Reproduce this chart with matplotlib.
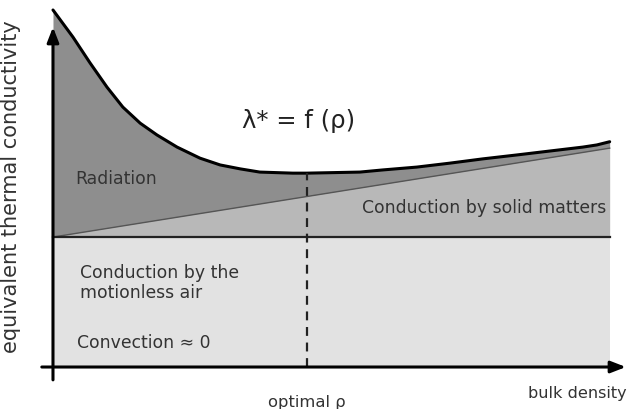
import matplotlib
matplotlib.use("Agg")
import matplotlib.pyplot as plt
import numpy as np

# Data (arbitrary units read from the schematic)
density = [0, 3.58, 6.62, 9.66, 12.5, 15.6, 18.6, 22.2, 26.3, 29.9, 33.5, 37.0,
           42.9, 45.4, 54.9, 59.0, 65.1, 71.0, 76.9, 83.0, 88.9, 94.8, 97.3, 99.6]
conductivity = [100.0, 92.4, 85.2, 78.4, 72.8, 68.3, 65.0, 61.6, 58.5, 56.6, 55.5, 54.6,
                54.3, 54.3, 54.6, 55.2, 56.0, 57.1, 58.3, 59.4, 60.5, 61.6, 62.2, 63.1]
air_level = 36.4
solid_start, solid_end = 36.4, 61.3
optimal_rho = 45.4
x_end = 99.6

c_rad = "#8e8e8e"
c_solid = "#b8b8b8"
c_air = "#e2e2e2"

fig = plt.figure(figsize=(6.27, 4.09), dpi=100)
ax = fig.add_axes([0, 0, 1, 1])
ax.set_xlim(-9.48, 102.7)
ax.set_ylim(-11.76, 102.8)
ax.axis("off")

x = np.array(density)
y = np.array(conductivity)
solid = np.interp(x, [0, x_end], [solid_start, solid_end])

ax.fill_between(x, 0, air_level, color=c_air, lw=0)
ax.fill_between(x, air_level, solid, color=c_solid, lw=0)
ax.fill_between(x, solid, y, color=c_rad, lw=0)

ax.plot(x, y, color="black", lw=2.2, solid_capstyle="round", solid_joinstyle="round")
ax.plot([0, x_end], [solid_start, solid_end], color="#555555", lw=1.0)
ax.plot([0, x_end], [air_level, air_level], color="#222222", lw=1.6)
ymin_opt = np.interp(optimal_rho, x, y)
ax.plot([optimal_rho, optimal_rho], [0, ymin_opt], color="#222222", lw=1.6,
        ls=(0, (4, 3)))

# axes arrows
ax.annotate("", xy=(102.5, 0), xytext=(-2, 0),
            arrowprops=dict(arrowstyle="-|>,head_length=0.9,head_width=0.35",
                            color="black", lw=2.2, shrinkA=0, shrinkB=0))
ax.annotate("", xy=(0, 95.2), xytext=(0, -3.6),
            arrowprops=dict(arrowstyle="-|>,head_length=0.9,head_width=0.35",
                            color="black", lw=2.2, shrinkA=0, shrinkB=0))

fs = 12.4
tc = "#333333"
ax.text(44.0, 69.0, "λ* = f (ρ)", fontsize=17.5, color="#222222", ha="center", va="center")
ax.text(4.0, 52.6, "Radiation", fontsize=fs, color=tc, va="center")
ax.text(55.3, 44.5, "Conduction by solid matters", fontsize=fs, color=tc, va="center")
ax.text(4.9, 23.5, "Conduction by the\nmotionless air", fontsize=fs, color=tc,
        va="center", linespacing=1.15)
ax.text(4.3, 6.7, "Convection ≈ 0", fontsize=fs, color=tc, va="center")
ax.text(optimal_rho, -10.0, "optimal ρ", fontsize=11.8, color=tc, ha="center", va="center")
ax.text(102.6, -7.3, "bulk density", fontsize=11.6, color=tc, ha="right", va="center")
ax.text(-7.6, 50.5, "equivalent thermal conductivity", fontsize=15, color=tc,
        rotation=90, ha="center", va="center")

fig.savefig("out.png", dpi=100)
